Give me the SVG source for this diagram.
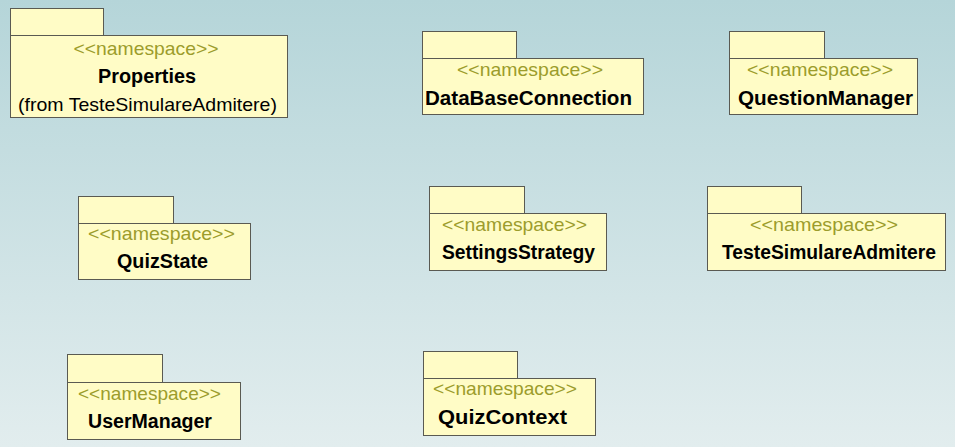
<svg xmlns="http://www.w3.org/2000/svg" width="955" height="447" viewBox="0 0 955 447">
<defs>
<linearGradient id="bg" x1="0" y1="0" x2="0" y2="1">
<stop offset="0" stop-color="#b5d5d9"/>
<stop offset="1" stop-color="#e2edee"/>
</linearGradient>
<style>
.pk{fill:#fffcc6;stroke:#5a5a52;stroke-width:1}
.st{font-family:"Liberation Sans",Arial,sans-serif;font-size:19px;fill:#9c9c2c;text-anchor:middle}
.nm{font-family:"Liberation Sans",Arial,sans-serif;font-size:19.5px;font-weight:bold;fill:#000;text-anchor:middle}
.fr{font-family:"Liberation Sans",Arial,sans-serif;font-size:19px;fill:#000;text-anchor:middle}
</style>
</defs>
<rect x="0" y="0" width="955" height="447" fill="url(#bg)"/>
<g id="connectors"></g>
<g id="Properties">
<rect class="pk" x="10.5" y="8.5" width="93" height="27"/>
<rect class="pk" x="10.5" y="35.5" width="277" height="82"/>
<text class="st" x="146" y="55" textLength="145" lengthAdjust="spacingAndGlyphs">&lt;&lt;namespace&gt;&gt;</text>
<text class="nm" x="147" y="83" textLength="98" lengthAdjust="spacingAndGlyphs">Properties</text>
<text class="fr" x="147.5" y="111" textLength="259" lengthAdjust="spacingAndGlyphs">(from TesteSimulareAdmitere)</text>
</g>
<g id="DataBaseConnection">
<rect class="pk" x="422.5" y="31.5" width="94" height="27"/>
<rect class="pk" x="422.5" y="58.5" width="221" height="56"/>
<text class="st" x="530" y="76" textLength="146" lengthAdjust="spacingAndGlyphs">&lt;&lt;namespace&gt;&gt;</text>
<text class="nm" x="528.5" y="105" textLength="207" lengthAdjust="spacingAndGlyphs">DataBaseConnection</text>
</g>
<g id="QuestionManager">
<rect class="pk" x="729.5" y="31.5" width="95" height="27"/>
<rect class="pk" x="729.5" y="58.5" width="188" height="56"/>
<text class="st" x="820" y="76" textLength="146" lengthAdjust="spacingAndGlyphs">&lt;&lt;namespace&gt;&gt;</text>
<text class="nm" x="825.5" y="105" textLength="175" lengthAdjust="spacingAndGlyphs">QuestionManager</text>
</g>
<g id="QuizState">
<rect class="pk" x="78.5" y="196.5" width="95" height="27"/>
<rect class="pk" x="78.5" y="223.5" width="172" height="56"/>
<text class="st" x="161.5" y="240" textLength="147" lengthAdjust="spacingAndGlyphs">&lt;&lt;namespace&gt;&gt;</text>
<text class="nm" x="162.5" y="268" textLength="91" lengthAdjust="spacingAndGlyphs">QuizState</text>
</g>
<g id="SettingsStrategy">
<rect class="pk" x="429.5" y="186.5" width="95" height="27"/>
<rect class="pk" x="429.5" y="213.5" width="177" height="57"/>
<text class="st" x="514.5" y="231" textLength="145" lengthAdjust="spacingAndGlyphs">&lt;&lt;namespace&gt;&gt;</text>
<text class="nm" x="518.5" y="259" textLength="153" lengthAdjust="spacingAndGlyphs">SettingsStrategy</text>
</g>
<g id="TesteSimulareAdmitere">
<rect class="pk" x="707.5" y="186.5" width="94" height="27"/>
<rect class="pk" x="707.5" y="213.5" width="238" height="57"/>
<text class="st" x="824" y="231" textLength="148" lengthAdjust="spacingAndGlyphs">&lt;&lt;namespace&gt;&gt;</text>
<text class="nm" x="829" y="259" textLength="214" lengthAdjust="spacingAndGlyphs">TesteSimulareAdmitere</text>
</g>
<g id="UserManager">
<rect class="pk" x="67.5" y="354.5" width="95" height="28"/>
<rect class="pk" x="67.5" y="382.5" width="173" height="57"/>
<text class="st" x="149.5" y="400" textLength="143" lengthAdjust="spacingAndGlyphs">&lt;&lt;namespace&gt;&gt;</text>
<text class="nm" x="150" y="428" textLength="124" lengthAdjust="spacingAndGlyphs">UserManager</text>
</g>
<g id="QuizContext">
<rect class="pk" x="423.5" y="351.5" width="94" height="27"/>
<rect class="pk" x="423.5" y="378.5" width="172" height="57"/>
<text class="st" x="505" y="395" textLength="144" lengthAdjust="spacingAndGlyphs">&lt;&lt;namespace&gt;&gt;</text>
<text class="nm" x="502.5" y="424" textLength="129" lengthAdjust="spacingAndGlyphs">QuizContext</text>
</g>
</svg>
